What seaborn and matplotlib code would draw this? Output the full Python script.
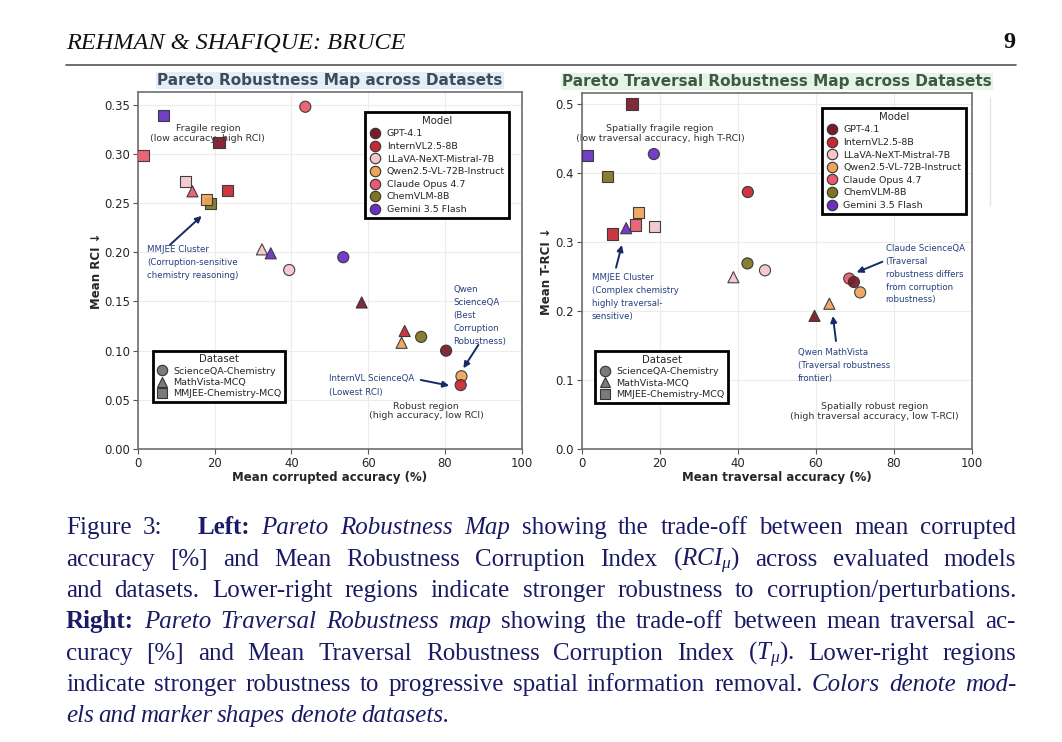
import pandas as pd
import matplotlib
matplotlib.use("Agg")
import matplotlib.pyplot as plt
from matplotlib.lines import Line2D
import seaborn as sns

# models / colours / datasets
models = ["GPT-4.1", "InternVL2.5-8B", "LLaVA-NeXT-Mistral-7B", "Qwen2.5-VL-72B-Instruct",
          "Claude Opus 4.7", "ChemVLM-8B", "Gemini 3.5 Flash"]
model_colors = ["#7a1a2a", "#c62a33", "#f5c6cc", "#eea55a", "#e85a6e", "#7f7520", "#6b2fc4"]
datasets = ["ScienceQA-Chemistry", "MathVista-MCQ", "MMJEE-Chemistry-MCQ"]
dataset_markers = ["o", "^", "s"]

# left panel - corruption robustness
cor_model = ["ChemVLM-8B", "ChemVLM-8B",
             "Qwen2.5-VL-72B-Instruct", "Qwen2.5-VL-72B-Instruct", "Qwen2.5-VL-72B-Instruct",
             "InternVL2.5-8B", "InternVL2.5-8B", "InternVL2.5-8B",
             "LLaVA-NeXT-Mistral-7B", "LLaVA-NeXT-Mistral-7B", "LLaVA-NeXT-Mistral-7B",
             "Claude Opus 4.7", "Claude Opus 4.7", "Claude Opus 4.7",
             "GPT-4.1", "GPT-4.1", "GPT-4.1",
             "Gemini 3.5 Flash", "Gemini 3.5 Flash", "Gemini 3.5 Flash"]
cor_dataset = ["ScienceQA-Chemistry", "MMJEE-Chemistry-MCQ",
               "ScienceQA-Chemistry", "MathVista-MCQ", "MMJEE-Chemistry-MCQ",
               "ScienceQA-Chemistry", "MathVista-MCQ", "MMJEE-Chemistry-MCQ",
               "ScienceQA-Chemistry", "MathVista-MCQ", "MMJEE-Chemistry-MCQ",
               "ScienceQA-Chemistry", "MathVista-MCQ", "MMJEE-Chemistry-MCQ",
               "ScienceQA-Chemistry", "MathVista-MCQ", "MMJEE-Chemistry-MCQ",
               "ScienceQA-Chemistry", "MathVista-MCQ", "MMJEE-Chemistry-MCQ"]
cor_acc = [73.8, 18.9, 84.3, 68.7, 17.9, 84.1, 69.5, 23.4, 39.4, 32.3, 12.3,
           43.6, 14.2, 1.3, 80.3, 58.3, 21.1, 53.5, 34.6, 6.6]
cor_rci = [0.114, 0.250, 0.074, 0.108, 0.254, 0.065, 0.120, 0.263, 0.182, 0.203, 0.272,
           0.348, 0.262, 0.298, 0.100, 0.149, 0.312, 0.195, 0.199, 0.339]

# right panel - traversal robustness
trv_model = ["ChemVLM-8B", "ChemVLM-8B",
             "Qwen2.5-VL-72B-Instruct", "Qwen2.5-VL-72B-Instruct", "Qwen2.5-VL-72B-Instruct",
             "InternVL2.5-8B", "InternVL2.5-8B",
             "LLaVA-NeXT-Mistral-7B", "LLaVA-NeXT-Mistral-7B", "LLaVA-NeXT-Mistral-7B",
             "Claude Opus 4.7", "Claude Opus 4.7",
             "GPT-4.1", "GPT-4.1", "GPT-4.1",
             "Gemini 3.5 Flash", "Gemini 3.5 Flash", "Gemini 3.5 Flash"]
trv_dataset = ["ScienceQA-Chemistry", "MMJEE-Chemistry-MCQ",
               "ScienceQA-Chemistry", "MathVista-MCQ", "MMJEE-Chemistry-MCQ",
               "ScienceQA-Chemistry", "MMJEE-Chemistry-MCQ",
               "ScienceQA-Chemistry", "MathVista-MCQ", "MMJEE-Chemistry-MCQ",
               "ScienceQA-Chemistry", "MMJEE-Chemistry-MCQ",
               "ScienceQA-Chemistry", "MathVista-MCQ", "MMJEE-Chemistry-MCQ",
               "ScienceQA-Chemistry", "MathVista-MCQ", "MMJEE-Chemistry-MCQ"]
trv_acc = [42.5, 6.6, 71.4, 63.5, 14.5, 42.6, 7.9, 47.0, 38.9, 18.6,
           68.6, 13.7, 69.8, 59.7, 12.9, 18.5, 11.4, 1.4]
trv_rci = [0.269, 0.395, 0.227, 0.2106, 0.3425, 0.3725, 0.3116, 0.259, 0.249, 0.323,
           0.247, 0.3246, 0.242, 0.193, 0.500, 0.4275, 0.320, 0.425]

caption_lines = [
    ["Figure", "3:", "", "", "**Left:**", "*Pareto*", "*Robustness*", "*Map*", "showing", "the",
     "trade-off", "between", "mean", "corrupted"],
    ["accuracy", "[%]", "and", "Mean", "Robustness", "Corruption", "Index",
     r"($\mathit{RCI}_{\mu}$)", "across", "evaluated", "models"],
    ["and", "datasets.", "Lower-right", "regions", "indicate", "stronger", "robustness", "to",
     "corruption/perturbations."],
    ["**Right:**", "*Pareto*", "*Traversal*", "*Robustness*", "*map*", "showing", "the", "trade-off",
     "between", "mean", "traversal", "ac-"],
    ["curacy", "[%]", "and", "Mean", "Traversal", "Robustness", "Corruption", "Index",
     r"($\mathit{T}_{\mu}$).", "Lower-right", "regions"],
    ["indicate", "stronger", "robustness", "to", "progressive", "spatial", "information", "removal.",
     "*Colors*", "*denote*", "*mod-*"],
    ["*els*", "*and*", "*marker*", "*shapes*", "*denote*", "*datasets.*"],
]

W, H = 1062, 742
sns.set_style("whitegrid")
plt.rcParams["mathtext.fontset"] = "custom"
plt.rcParams["mathtext.rm"] = "Liberation Serif"
plt.rcParams["mathtext.it"] = "Liberation Serif:italic"

fig = plt.figure(figsize=(W / 100, H / 100), dpi=100)
ax1 = fig.add_axes([138 / W, 1 - 449 / H, 383.7 / W, 357 / H])
ax2 = fig.add_axes([581.7 / W, 1 - 449 / H, 390 / W, 356 / H])

pal = dict(zip(models, model_colors))
mk = dict(zip(datasets, dataset_markers))

cor = pd.DataFrame({"model": cor_model, "dataset": cor_dataset, "acc": cor_acc, "rci": cor_rci})
trv = pd.DataFrame({"model": trv_model, "dataset": trv_dataset, "acc": trv_acc, "rci": trv_rci})

navy = "#24407e"
arrow_col = "#152a66"
for ax, df in [(ax1, cor), (ax2, trv)]:
    sns.scatterplot(data=df, x="acc", y="rci", hue="model", style="dataset", palette=pal,
                    markers=mk, hue_order=models, style_order=datasets, s=64,
                    edgecolor="#333333", linewidth=0.8, alpha=0.93, legend=False, ax=ax, zorder=3)
    ax.set_xlim(0, 100)
    ax.grid(True, color="#ececec", lw=0.8)
    for sp in ax.spines.values():
        sp.set_color("#6e6e6e")
        sp.set_linewidth(1.2)
    ax.tick_params(labelsize=8.4, length=3.5, width=0.8, color="#555555", pad=2,
                   left=True, bottom=True)
    # legends
    mh = [Line2D([], [], marker="o", ls="", markersize=7.5, markerfacecolor=c,
                 markeredgecolor="#333333", markeredgewidth=0.8, label=m)
          for m, c in zip(models, model_colors)]
    dh = [Line2D([], [], marker=s, ls="", markersize=7.5, markerfacecolor="#7a7a7a",
                 markeredgecolor="#333333", markeredgewidth=0.8, label=d)
          for d, s in zip(datasets, dataset_markers)]
    leg1 = ax.legend(handles=mh, title="Model", fontsize=6.8, title_fontsize=7.3,
                     loc="upper right", frameon=True, fancybox=False, framealpha=1,
                     edgecolor="black", labelspacing=0.38, handletextpad=0.6,
                     borderpad=0.45, handlelength=1.2, borderaxespad=0,
                     bbox_to_anchor=(0.967, 0.945) if ax is ax1 else (0.985, 0.959))
    leg1.get_frame().set_linewidth(2)
    ax.add_artist(leg1)
    leg2 = ax.legend(handles=dh, title="Dataset", fontsize=6.8, title_fontsize=7.3,
                     loc="lower left", frameon=True, fancybox=False, framealpha=1,
                     edgecolor="black", labelspacing=0.25, handletextpad=0.6,
                     borderpad=0.4, handlelength=1.2, borderaxespad=0,
                     bbox_to_anchor=(0.038, 0.131) if ax is ax1 else (0.035, 0.13))
    leg2.get_frame().set_linewidth(2)

ax1.set_ylim(0, 0.363)
ax1.set_yticks([0, 0.05, 0.10, 0.15, 0.20, 0.25, 0.30, 0.35])
ax1.set_yticklabels(["0.00", "0.05", "0.10", "0.15", "0.20", "0.25", "0.30", "0.35"])
ax2.set_ylim(0, 0.516)
ax2.set_yticks([0, 0.1, 0.2, 0.3, 0.4, 0.5])

ax1.set_xlabel("Mean corrupted accuracy (%)", fontsize=8.5, fontweight="bold", labelpad=1)
ax1.set_ylabel("Mean RCI \u2193", fontsize=8.5, fontweight="bold", labelpad=1)
ax2.set_xlabel("Mean traversal accuracy (%)", fontsize=8.5, fontweight="bold", labelpad=1)
ax2.set_ylabel("Mean T-RCI \u2193", fontsize=8.5, fontweight="bold", labelpad=2)

ax1.set_title("Pareto Robustness Map across Datasets", fontsize=11, fontweight="bold",
              color="#3e4b5a", pad=5,
              bbox=dict(facecolor="#e4eef8", edgecolor="none", boxstyle="square,pad=0.08"))
ax2.set_title("Pareto Traversal Robustness Map across Datasets", fontsize=11, fontweight="bold",
              color="#3d5a42", pad=5,
              bbox=dict(facecolor="#e6f4e6", edgecolor="none", boxstyle="square,pad=0.08"))

# region labels
ax1.text(18.2, 0.321, "Fragile region\n(low accuracy, high RCI)", ha="center", va="center",
         fontsize=6.8, color="#333333", zorder=2, linespacing=1.1)
ax1.text(75.1, 0.0387, "Robust region\n(high accuracy, low RCI)", ha="center", va="center",
         fontsize=6.8, color="#333333", zorder=2, linespacing=1.1)
ax2.text(20.1, 0.457, "Spatially fragile region\n(low traversal accuracy, high T-RCI)",
         ha="center", va="center", fontsize=6.8, color="#333333", zorder=2, linespacing=1.1)
ax2.text(75.1, 0.0548, "Spatially robust region\n(high traversal accuracy, low T-RCI)",
         ha="center", va="center", fontsize=6.8, color="#333333", zorder=2, linespacing=1.1)

# callouts
akw = dict(arrowstyle="-|>", color=arrow_col, lw=1.4, mutation_scale=9, shrinkA=0, shrinkB=0)
ax1.text(2.3, 0.2075, "MMJEE Cluster\n(Corruption-sensitive\nchemistry reasoning)", ha="left",
         va="top", fontsize=6.2, color=navy, linespacing=1.55)
ax1.annotate("", xy=(16.6, 0.237), xytext=(8.3, 0.2075), arrowprops=akw)
ax1.text(82.2, 0.1665, "Qwen\nScienceQA\n(Best\nCorruption\nRobustness)", ha="left", va="top",
         fontsize=6.2, color=navy, linespacing=1.55)
ax1.annotate("", xy=(84.8, 0.0821), xytext=(88.7, 0.1058), arrowprops=akw)
ax1.text(49.7, 0.0765, "InternVL ScienceQA\n(Lowest RCI)", ha="left", va="top",
         fontsize=6.2, color=navy, linespacing=1.7)
ax1.annotate("", xy=(81.1, 0.0644), xytext=(73.7, 0.0702), arrowprops=akw)

ax2.text(2.6, 0.2545, "MMJEE Cluster\n(Complex chemistry\nhighly traversal-\nsensitive)", ha="left",
         va="top", fontsize=6.2, color=navy, linespacing=1.55)
ax2.annotate("", xy=(10.3, 0.2957), xytext=(8.8, 0.2628), arrowprops=akw)
ax2.text(77.9, 0.297, "Claude ScienceQA\n(Traversal\nrobustness differs\nfrom corruption\nrobustness)",
         ha="left", va="top", fontsize=6.2, color=navy, linespacing=1.55)
ax2.annotate("", xy=(70.5, 0.256), xytext=(77.1, 0.2714), arrowprops=akw)
ax2.text(55.4, 0.146, "Qwen MathVista\n(Traversal robustness\nfrontier)", ha="left", va="top",
         fontsize=6.2, color=navy, linespacing=1.55)
ax2.annotate("", xy=(64.4, 0.1928), xytext=(65.2, 0.1565), arrowprops=akw)

# faint line to the right of the second panel
fig.add_artist(Line2D([990 / W, 990 / W], [1 - 97 / H, 1 - 205 / H], color="#e4e4e4", lw=1))

# page header
serif = "Liberation Serif"
fig.text(66 / W, 1 - 48 / H, "REHMAN & SHAFIQUE: BRUCE", fontsize=17.5, style="italic",
         family=serif, color="#111111", va="baseline")
fig.text(1016 / W, 1 - 48 / H, "9", fontsize=17.5, fontweight="bold", family=serif,
         color="#111111", va="baseline", ha="right")
fig.add_artist(Line2D([66 / W, 1016 / W], [1 - 64.5 / H] * 2, color="#555555", lw=1.2))

# justified caption
cap_col = "#1a1a66"
cap_size = 18
renderer = fig.canvas.get_renderer()
baselines = [534, 566, 597, 628, 660, 691, 722]
x0, x1 = 66, 1016
for i, (line, yb) in enumerate(zip(caption_lines, baselines)):
    texts = []
    for tok in line:
        if tok == "":
            texts.append(None)
            continue
        if tok.startswith("**"):
            t = fig.text(0, 1 - yb / H, tok.strip("*"), fontsize=cap_size, fontweight="bold",
                         family=serif, color=cap_col, va="baseline")
        elif tok.startswith("*"):
            t = fig.text(0, 1 - yb / H, tok.strip("*"), fontsize=cap_size, style="italic",
                         family=serif, color=cap_col, va="baseline")
        else:
            t = fig.text(0, 1 - yb / H, tok, fontsize=cap_size, family=serif, color=cap_col,
                         va="baseline")
        texts.append(t)
    widths = [t.get_window_extent(renderer).width if t is not None else 0 for t in texts]
    if i == len(caption_lines) - 1:
        gap = 4.5
    else:
        gap = (x1 - x0 - sum(widths)) / (len(texts) - 1)
    x = x0
    for t, w in zip(texts, widths):
        if t is not None:
            t.set_x(x / W)
        x += w + gap

fig.savefig("out.png", dpi=100)
